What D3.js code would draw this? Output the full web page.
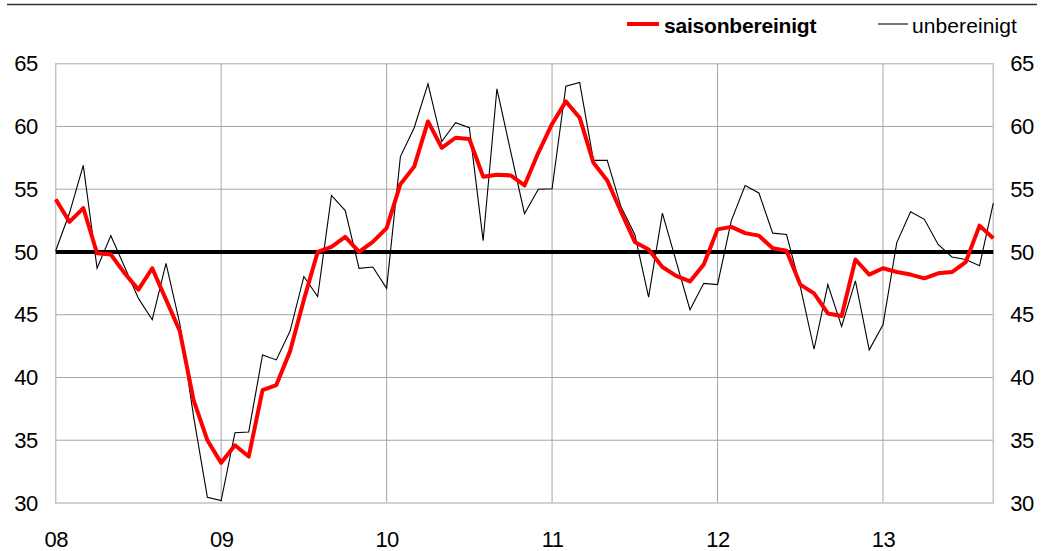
<!DOCTYPE html>
<html>
<head>
<meta charset="utf-8">
<script src="https://cdn.jsdelivr.net/npm/d3@7"></script>
<style>
  html, body { margin: 0; padding: 0; background: #fff; }
  svg { display: block; font-family: "Liberation Sans", Arial, sans-serif; }
</style>
</head>
<body>
<svg id="chart" width="1044" height="551"></svg>
<script>
// Monthly data, Jan 2008 – Sep 2013 (category axis: one slot per month)
const startYear = 2008;
const yearLabels = ["08", "09", "10", "11", "12", "13"];
const yTicks = [30, 35, 40, 45, 50, 55, 60, 65];
const seriesNames = ["saisonbereinigt", "unbereinigt"];

const saisonbereinigt = [
  54.2, 52.4, 53.5, 49.9, 49.8, 48.3, 47.0, 48.7, 46.2, 43.7, 38.2, 35.0,
  33.2, 34.6, 33.7, 39.0, 39.4, 42.1, 46.2, 50.0, 50.4, 51.2, 50.0, 50.8,
  51.9, 55.4, 56.8, 60.4, 58.3, 59.1, 59.0, 56.0, 56.15, 56.1, 55.3, 57.9,
  60.2, 62.0, 60.7, 57.1, 55.7, 53.2, 50.8, 50.2, 48.8, 48.1, 47.65, 49.0,
  51.8, 52.0, 51.5, 51.3, 50.3, 50.1, 47.4, 46.7, 45.1, 44.9, 49.4, 48.2,
  48.7, 48.4, 48.2, 47.9, 48.3, 48.4, 49.2, 52.1, 51.1
];
const unbereinigt = [
  50.1, 53.1, 56.9, 48.7, 51.3, 48.8, 46.3, 44.6, 49.1, 44.3, 36.9, 30.45,
  30.2, 35.6, 35.66, 41.8, 41.4, 43.7, 48.05, 46.45, 54.5, 53.3, 48.7, 48.8,
  47.1, 57.6, 59.9, 63.4, 58.8, 60.3, 59.9, 50.9, 63.0, 58.0, 53.05, 55.0,
  55.04, 63.2, 63.5, 57.3, 57.3, 53.6, 51.4, 46.4, 53.1, 49.25, 45.4, 47.5,
  47.4, 52.5, 55.3, 54.7, 51.5, 51.4, 47.25, 42.25, 47.4, 44.06, 47.7, 42.2,
  44.2, 50.75, 53.2, 52.6, 50.6, 49.6, 49.4, 48.9, 53.9
];
const referenceLevel = 50;

const n = saisonbereinigt.length;
const svg = d3.select("#chart");
const plot = { left: 55.7, right: 993.3, top: 63.7, bottom: 503 };

// month index scale (uniform category spacing)
const x = d3.scaleLinear().domain([0, n - 1]).range([plot.left, plot.right]);
const y = d3.scaleLinear().domain([30, 65]).range([plot.bottom, plot.top]);

const yearIdx = yearLabels.map((_, i) => i * 12);

// top rule
svg.append("line")
  .attr("x1", 7).attr("x2", 1037).attr("y1", 4.5).attr("y2", 4.5)
  .attr("stroke", "#333").attr("stroke-width", 1.5);

// horizontal grid
svg.append("g").selectAll("line").data(yTicks.slice(1, -1)).join("line")
  .attr("x1", plot.left).attr("x2", plot.right)
  .attr("y1", d => y(d)).attr("y2", d => y(d))
  .attr("stroke", "#a6a6a6").attr("stroke-width", 1);

// vertical grid (years)
svg.append("g").selectAll("line").data(yearIdx.slice(1)).join("line")
  .attr("x1", d => x(d)).attr("x2", d => x(d))
  .attr("y1", plot.top).attr("y2", plot.bottom)
  .attr("stroke", "#a6a6a6").attr("stroke-width", 1);

// frame
svg.append("rect")
  .attr("x", plot.left).attr("y", plot.top)
  .attr("width", plot.right - plot.left).attr("height", plot.bottom - plot.top)
  .attr("fill", "none").attr("stroke", "#c4c4c4").attr("stroke-width", 1.5);

// left & right y axes (labels only)
const gl = svg.append("g").attr("transform", `translate(${plot.left},0)`)
  .call(d3.axisLeft(y).tickValues(yTicks).tickSize(0).tickPadding(18));
const gr = svg.append("g").attr("transform", `translate(${plot.right},0)`)
  .call(d3.axisRight(y).tickValues(yTicks).tickSize(0).tickPadding(17));

// x axis
const gx = svg.append("g").attr("transform", `translate(0,${plot.bottom})`)
  .call(d3.axisBottom(x).tickValues(yearIdx)
    .tickFormat((d, i) => yearLabels[i]).tickSize(0).tickPadding(28));

[gl, gr, gx].forEach(g => {
  g.select(".domain").remove();
  g.selectAll("text")
    .attr("font-family", "'Liberation Sans', Arial, sans-serif")
    .attr("font-size", 22).attr("fill", "#000")
    .attr("letter-spacing", -0.5);
});

// reference line at 50
svg.append("line")
  .attr("x1", plot.left).attr("x2", plot.right)
  .attr("y1", y(referenceLevel)).attr("y2", y(referenceLevel))
  .attr("stroke", "#000").attr("stroke-width", 4);

// lines
const line = d3.line().x((d, i) => x(i)).y(d => y(d));

svg.append("path").datum(unbereinigt)
  .attr("d", line).attr("fill", "none")
  .attr("stroke", "#000").attr("stroke-width", 1.1)
  .attr("stroke-linejoin", "miter");

svg.append("path").datum(saisonbereinigt)
  .attr("d", line).attr("fill", "none")
  .attr("stroke", "#ff0000").attr("stroke-width", 4)
  .attr("stroke-linejoin", "round");

// legend
const legend = svg.append("g");
legend.append("line").attr("x1", 627).attr("x2", 659).attr("y1", 24).attr("y2", 24)
  .attr("stroke", "#ff0000").attr("stroke-width", 4);
legend.append("text").attr("x", 664).attr("y", 33)
  .attr("font-size", 21).attr("font-weight", "bold").attr("letter-spacing", -0.2)
  .text(seriesNames[0]);
legend.append("line").attr("x1", 878).attr("x2", 908).attr("y1", 24).attr("y2", 24)
  .attr("stroke", "#000").attr("stroke-width", 1.1);
legend.append("text").attr("x", 912).attr("y", 33)
  .attr("font-size", 21).attr("letter-spacing", 0.1)
  .text(seriesNames[1]);
</script>
</body>
</html>
